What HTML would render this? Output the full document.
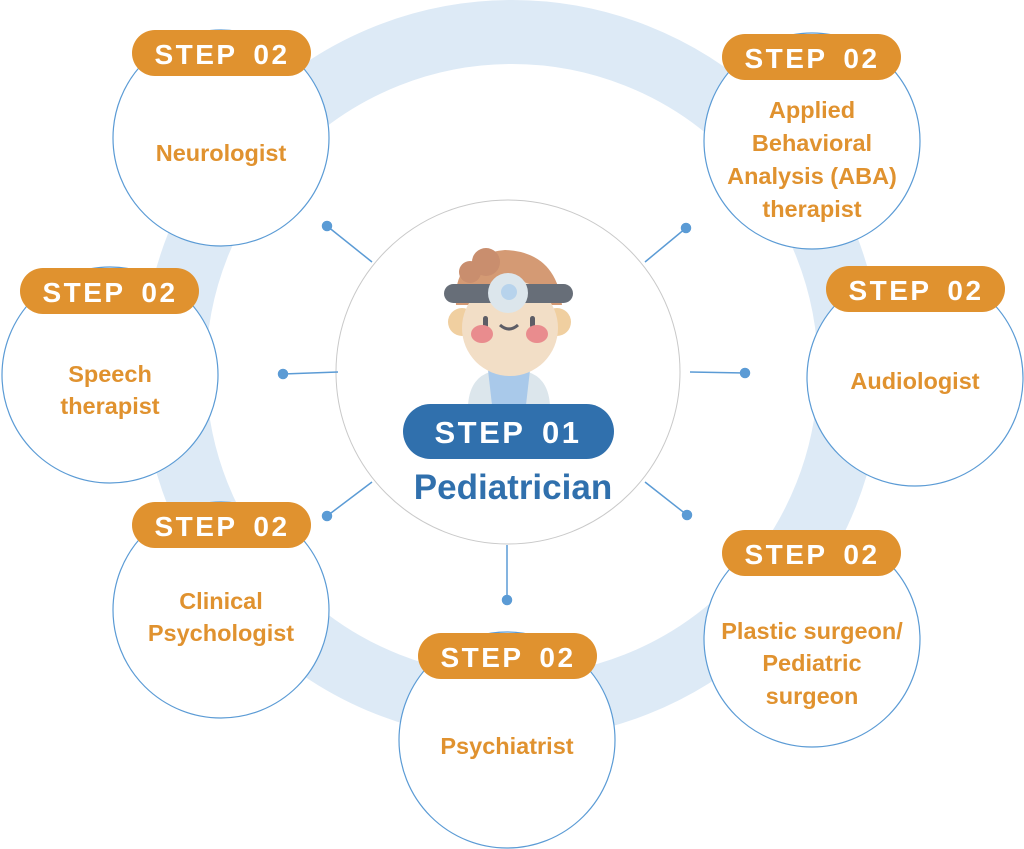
<!DOCTYPE html>
<html><head><meta charset="utf-8"><style>
html,body{margin:0;padding:0;background:#fff;width:1024px;height:849px;overflow:hidden}
svg{display:block}
.lbl{font-family:"Liberation Sans","DejaVu Sans",sans-serif;font-size:23.5px;font-weight:bold;fill:#E0922F;text-anchor:middle}
.st{font-family:"Liberation Sans","DejaVu Sans",sans-serif;font-size:28px;font-weight:bold;fill:#fff;text-anchor:middle;letter-spacing:2.5px;word-spacing:6px}
</style></head><body>
<svg width="1024" height="849" viewBox="0 0 1024 849" xmlns="http://www.w3.org/2000/svg">
<circle cx="512" cy="370" r="338" fill="none" stroke="#DDEAF6" stroke-width="64"/>
<circle cx="508" cy="372" r="172" fill="#fff" stroke="#c9c9c9" stroke-width="1"/>
<g stroke="#5B9BD5" stroke-width="1.5" fill="#5B9BD5">
<line x1="327" y1="226" x2="372" y2="262"/><circle cx="327" cy="226" r="4.5"/>
<line x1="686" y1="228" x2="645" y2="262"/><circle cx="686" cy="228" r="4.5"/>
<line x1="283" y1="374" x2="338" y2="372"/><circle cx="283" cy="374" r="4.5"/>
<line x1="745" y1="373" x2="690" y2="372"/><circle cx="745" cy="373" r="4.5"/>
<line x1="327" y1="516" x2="372" y2="482"/><circle cx="327" cy="516" r="4.5"/>
<line x1="687" y1="515" x2="645" y2="482"/><circle cx="687" cy="515" r="4.5"/>
<line x1="507" y1="600" x2="507" y2="545"/><circle cx="507" cy="600" r="4.5"/>
</g>
<!-- doctor -->
<g>
<path d="M468 405 Q470 378 490 372 L528 372 Q548 378 550 405 Z" fill="#DCE6EC"/>
<path d="M488 370 L530 370 L526 405 L492 405 Z" fill="#A9C9EA"/>
<circle cx="462" cy="322" r="14" fill="#F0CFA0"/>
<circle cx="557" cy="322" r="14" fill="#F0CFA0"/>
<path d="M456 305 Q452 255 505 250 Q556 252 562 305 Z" fill="#D49A74"/>
<circle cx="486" cy="262" r="14" fill="#C98E6E"/>
<circle cx="470" cy="272" r="11" fill="#C98E6E"/>
<circle cx="510" cy="328" r="48" fill="#F2DEC6"/>
<rect x="444" y="284" width="129" height="19" rx="9.5" fill="#676E78"/>
<circle cx="508" cy="293" r="20" fill="#DCE6EC"/>
<circle cx="509" cy="292" r="8" fill="#B7D3EC"/>
<rect x="483" y="316" width="5" height="12" rx="2.5" fill="#5d5d66"/>
<rect x="530" y="316" width="5" height="12" rx="2.5" fill="#5d5d66"/>
<path d="M500 325 Q509 333 518 325" stroke="#5d5d66" stroke-width="3" fill="none"/>
<ellipse cx="482" cy="334" rx="11" ry="9" fill="#E98C8E"/>
<ellipse cx="537" cy="334" rx="11" ry="9" fill="#E98C8E"/>
</g>
<rect x="403" y="404" width="211" height="55" rx="27.5" fill="#3070AD"/>
<text class="st" x="508" y="443" style="font-size:31px">STEP 01</text>
<text x="513" y="499" style="font-family:'Liberation Sans',sans-serif;font-weight:bold;font-size:35px;fill:#3070AD;text-anchor:middle">Pediatrician</text>

<g fill="#fff" stroke="#5B9BD5" stroke-width="1.2">
<circle cx="221" cy="138" r="108"/>
<circle cx="812" cy="141" r="108"/>
<circle cx="110" cy="375" r="108"/>
<circle cx="915" cy="378" r="108"/>
<circle cx="221" cy="610" r="108"/>
<circle cx="507" cy="740" r="108"/>
<circle cx="812" cy="639" r="108"/>
</g>
<g fill="#E0922F">
<rect x="132" y="30" width="179" height="46" rx="23"/>
<rect x="722" y="34" width="179" height="46" rx="23"/>
<rect x="20" y="268" width="179" height="46" rx="23"/>
<rect x="826" y="266" width="179" height="46" rx="23"/>
<rect x="132" y="502" width="179" height="46" rx="23"/>
<rect x="418" y="633" width="179" height="46" rx="23"/>
<rect x="722" y="530" width="179" height="46" rx="23"/>
</g>
<text class="st" x="222" y="64">STEP 02</text>
<text class="st" x="812" y="68">STEP 02</text>
<text class="st" x="110" y="302">STEP 02</text>
<text class="st" x="916" y="300">STEP 02</text>
<text class="st" x="222" y="536">STEP 02</text>
<text class="st" x="508" y="667">STEP 02</text>
<text class="st" x="812" y="564">STEP 02</text>

<text class="lbl" x="221" y="161">Neurologist</text>
<text class="lbl" x="812" y="118">Applied</text>
<text class="lbl" x="812" y="151">Behavioral</text>
<text class="lbl" x="812" y="184">Analysis (ABA)</text>
<text class="lbl" x="812" y="217">therapist</text>
<text class="lbl" x="110" y="382">Speech</text>
<text class="lbl" x="110" y="414">therapist</text>
<text class="lbl" x="915" y="389">Audiologist</text>
<text class="lbl" x="221" y="609">Clinical</text>
<text class="lbl" x="221" y="641">Psychologist</text>
<text class="lbl" x="507" y="754">Psychiatrist</text>
<text class="lbl" x="812" y="639">Plastic surgeon/</text>
<text class="lbl" x="812" y="671">Pediatric</text>
<text class="lbl" x="812" y="704">surgeon</text>
</svg>
</body></html>
